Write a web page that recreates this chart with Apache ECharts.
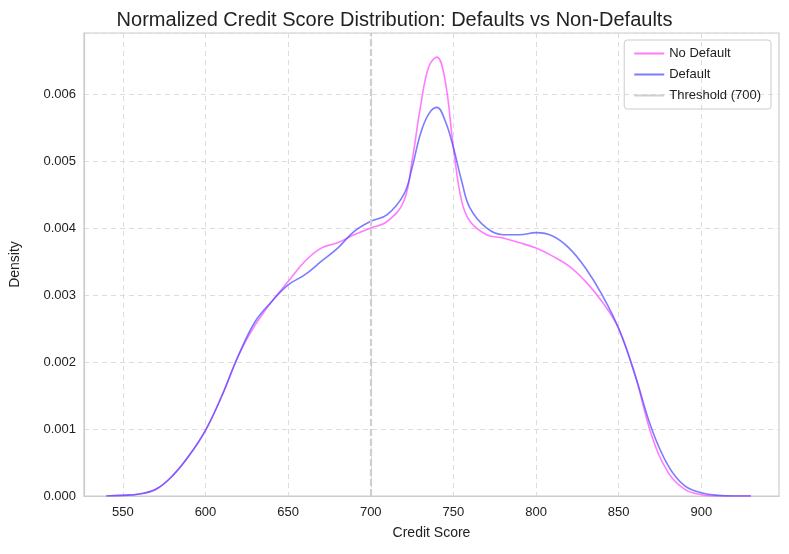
<!DOCTYPE html>
<html><head><meta charset="utf-8">
<script src="https://cdn.jsdelivr.net/npm/echarts@6/dist/echarts.min.js"></script>
<style>body{margin:0}#c{width:789px;height:554px}</style>
</head><body><div id="c"></div>
<script>
// credit score grid and KDE densities
var scores = [540,550,560,570,580,590,600,610,620,630,640,650,660,670,680,690,700,710,720,725,730,735,740,745,750,755,760,770,780,790,800,810,820,830,840,850,860,870,880,890,900,910,920,930];
var noDefault = [0,0.00001,0.00003,0.0001,0.0003,0.0006,0.00098,0.0015,0.0021,0.00255,0.0029,0.0032,0.0035,0.0037,0.00378,0.0039,0.0040,0.0041,0.0044,0.0050,0.0058,0.0064,0.00655,0.0062,0.0052,0.0044,0.0041,0.0039,0.00385,0.00378,0.0037,0.00358,0.00343,0.0032,0.0029,0.0025,0.0018,0.0009,0.00035,0.0001,0.00002,0,0,0];
var isDefault = [0,0.00001,0.00003,0.0001,0.0003,0.0006,0.00098,0.0015,0.0021,0.0026,0.0029,0.00315,0.0033,0.0035,0.0037,0.00395,0.0041,0.0042,0.0045,0.0049,0.0054,0.0057,0.0058,0.0056,0.0052,0.0047,0.0043,0.0040,0.0039,0.0039,0.00393,0.00388,0.0037,0.0034,0.0030,0.0025,0.0018,0.0010,0.00045,0.00015,0.00005,0.00001,0,0];
var xTicks = [550,600,650,700,750,800,850,900];
var threshold = 700;

function pairs(v){ return scores.map(function(s,i){ return [s, v[i]]; }); }

var font = 'Liberation Sans';
var chart = echarts.init(document.getElementById('c'));
chart.setOption({
    textStyle: {fontFamily: font},
    title: {text: 'Normalized Credit Score Distribution: Defaults vs Non-Defaults', left: 'center', top: 5,
        textStyle: {fontSize: 20, fontWeight: 'normal', color: '#222', fontFamily: font}},
    legend: {
        orient: 'vertical', right: 18, top: 40, itemWidth: 30, itemHeight: 2, itemGap: 8,
        borderColor: '#ccc', borderWidth: 1, borderRadius: 3, padding: [7, 10],
        textStyle: {fontSize: 13, color: '#222'},
        data: [{name: 'No Default', icon: 'rect'}, {name: 'Default', icon: 'rect'}, {name: 'Threshold (700)', icon: 'rect', itemStyle: {color: '#cfcfcf'}}]
    },
    grid: {left: 82, right: 10, top: 33, bottom: 58, show: true, borderColor: '#ccc', borderWidth: 1.2},
    xAxis: {
        type: 'value', min: 526.5, max: 947,
        name: 'Credit Score', nameLocation: 'middle', nameGap: 30, nameTextStyle: {fontSize: 14, color: '#222'},
        axisLine: {show: true, onZero: false, lineStyle: {color: '#ccc', width: 1.2}},
        axisTick: {show: false, customValues: xTicks},
        axisLabel: {customValues: xTicks, color: '#222', fontSize: 13, margin: 10},
        splitLine: {show: true, lineStyle: {type: [5, 4], color: '#ddd'}}
    },
    yAxis: {
        type: 'value', min: 0, max: 0.00691, interval: 0.001,
        name: 'Density', nameLocation: 'middle', nameGap: 62, nameTextStyle: {fontSize: 14, color: '#222'},
        axisLine: {show: true, lineStyle: {color: '#ccc', width: 1.2}},
        axisTick: {show: false},
        axisLabel: {color: '#222', fontSize: 13, formatter: function(v){ return v.toFixed(3); }, showMaxLabel: false},
        splitLine: {show: true, lineStyle: {type: [5, 4], color: '#ddd'}}
    },
    series: [
        {name: 'No Default', type: 'line', smooth: 0.4, symbol: 'none', data: pairs(noDefault),
            color: 'rgba(255,80,255,0.75)', lineStyle: {width: 1.6}},
        {name: 'Default', type: 'line', smooth: 0.4, symbol: 'none', data: pairs(isDefault),
            color: 'rgba(80,80,255,0.75)', lineStyle: {width: 1.6}},
        {name: 'Threshold (700)', type: 'line', data: [], color: '#cfcfcf', lineStyle: {type: 'dashed', width: 2},
            markLine: {symbol: 'none', silent: true, label: {show: false},
                lineStyle: {color: '#cfcfcf', type: [7, 3], width: 2.2}, data: [{xAxis: threshold}]}}
    ]
});
</script></body></html>
